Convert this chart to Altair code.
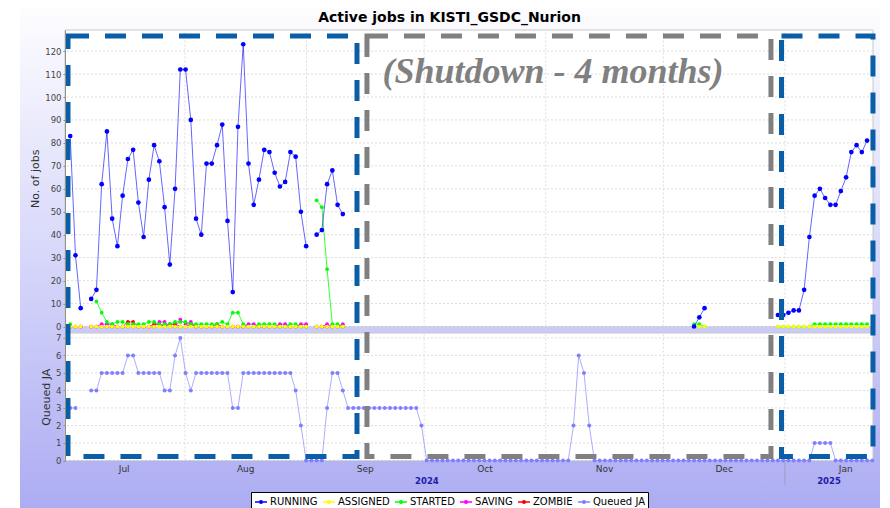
import altair as alt
import pandas as pd

# ---------------- data ----------------
TITLE = "Active jobs in KISTI_GSDC_Nurion"
SERIES = ["RUNNING", "ASSIGNED", "STARTED", "SAVING", "ZOMBIE", "Queued JA"]
COLORS = ["#0000ff", "#ffff00", "#00ff00", "#ff00ff", "#ff0000", "#8080ff"]

SAMPLE_START = "2024-07-02 18:00"   # first sample
SAMPLE_STEP_MIN = 1925              # sampling interval (minutes)
A0, B0, C0 = 0, 119, 135            # first sample index of each active block

running_a = [83, 31, 8, None, 12, 16, 62, 85, 47, 35, 57, 73, 77, 54,
             39, 64, 79, 72, 52, 27, 60, 112, 112, 90, 47, 40, 71, 71,
             79, 88, 46, 15, 87, 123, 71, 53, 64, 77, 76, 67, 61, 63,
             76, 74, 50, 35, None, 40, 42, 62, 68, 53, 49]
assigned_a = [0, 0, 0, None, 0, 0, 0, 0, 0, 0, 0, 0, 0, 0,
              0, 0, 0, 0, 0, 0, 0, 0, 0, 0, 0, 0, 0, 0,
              0, 0, 0, 0, 0, 0, 0, 0, 0, 0, 0, 0, 0, 0,
              0, 0, 0, 0, None, 0, 0, 0, 0, 0, 0]
started_a = [1, None, None, None, None, 11, 6, 2, 1, 2, 2, 1, 1, 1,
             1, 2, 2, 1, 1, 1, 2, 2, 2, 1, 1, 1, 1, 1,
             1, 2, 1, 6, 6, 1, 0, 0, 1, 1, 1, 1, 0, 0,
             1, 1, 0, 0, None, 55, 52, 25, 1, 1, 0]
saving_a = [0, 0, 0, None, 0, 0, 1, 1, 1, 0, 0, 0, 0, 0,
            0, 0, 0, 2, 2, 0, 0, 3, 1, 2, 0, 0, 0, 0,
            0, 0, 0, 0, 0, 0, 1, 1, 0, 0, 0, 0, 1, 1,
            0, 0, 1, 1, None, 0, 0, 1, 0, 0, 1]
zombie_a = [0, 0, 0, None, 0, 0, 0, 0, 0, 0, 0, 2, 2, 0,
            0, 0, 1, 1, 0, 1, 1, 0, 0, 1, 0, 0, 0, 0,
            1, 0, 0, 0, 0, 0, 0, 0, 0, 0, 0, 0, 0, 0,
            0, 0, 0, 0, None, 0, 0, 0, 0, 0, 0]

running_b = [0, 4, 8]
assigned_b = [0, 0, 0]
started_b = [1, 1, 0]

running_c = [5, 5, 6, 7, 7, 16, 39, 57, 60, 56, 53, 53, 59, 65, 76, 79, 76, 81]
assigned_c = [0, 0, 0, 0, 0, 0, 0, 0, 0, 0, 0, 0, 0, 0, 0, 0, 0, 0]
started_c = [0, 0, 0, 0, 0, 0, 0, 1, 1, 1, 1, 1, 1, 1, 1, 1, 1, 1]

queued_ja = [3, 3, None, None, 4, 4, 5, 5, 5, 5, 5, 6, 6, 5,
             5, 5, 5, 5, 4, 4, 6, 7, 5, 4, 5, 5, 5, 5,
             5, 5, 5, 3, 3, 5, 5, 5, 5, 5, 5, 5, 5, 5,
             5, 4, 2, 0, 0, 0, 0, 3, 5, 5, 4, 3, 3, 3,
             3, 3, 3, 3, 3, 3, 3, 3, 3, 3, 3, 2, 0, 0,
             0, 0, 0, 0, 0, 0, 0, 0, 0, 0, 0, 0, 0, 0,
             0, 0, 0, 0, 0, 0, 0, 0, 0, 0, 0, 0, 2, 6,
             5, 2, 0, 0, 0, 0, 0, 0, 0, 0, 0, 0, 0, 0,
             0, 0, 0, 0, 0, 0, 0, 0, 0, 0, 0, 0, 0, 0,
             0, 0, 0, 0, 0, 0, 0, 0, 0, 0, 0, 0, 0, 0,
             0, 0, 1, 1, 1, 1, 0, 0, 0, 0, 0, 0, 0, 0]

TOP_TICKS = [0, 10, 20, 30, 40, 50, 60, 70, 80, 90, 100, 110, 120]
BOTTOM_TICKS = [0, 1, 2, 3, 4, 5, 6, 7]
MONTH_STARTS = ["2024-08-01", "2024-09-01", "2024-10-01", "2024-11-01",
                "2024-12-01", "2025-01-01"]
MONTH_NAMES = ["Jul", "Aug", "Sep", "Oct", "Nov", "Dec", "Jan"]
MONTH_MIDS = ["2024-07-16 12:00", "2024-08-16 12:00", "2024-09-16 00:00",
              "2024-10-16 12:00", "2024-11-16 00:00", "2024-12-16 12:00",
              "2025-01-16 12:00"]
YEAR_NAMES = ["2024", "2025"]
YEAR_MIDS = ["2024-10-01 17:00", "2025-01-12 05:30"]
YEAR_BREAKS = ["2025-01-01"]

X_START = "2024-07-01 10:00"
X_END = "2025-01-23 11:00"
TOP_DOMAIN = [0, 129.2]
BOTTOM_DOMAIN = [0, 7.28]

BOX_STARTS = ["2024-07-02 04:20", "2024-09-16 10:00", "2024-12-31 03:00"]
BOX_ENDS = ["2024-09-13 21:00", "2024-12-28 10:30", "2025-01-23 10:50"]
BOX_COLORS = ["#0a5ea8", "#808080", "#0a5ea8"]
BOX_FRAC = [0.0104, 0.986]

NOTE_TEXT = "(Shutdown - 4 months)"
NOTE_AT = "2024-11-02 20:24"
NOTE_VALUE = 106

# ---------------- layout ----------------
W, H = 808, 431
TOP_RANGE = [296.5, 0]
BOTTOM_RANGE = [430.5, 303]
FRAC_RANGE = [H, 0]
FONT = "DejaVu Sans"


def build_rows():
    start = pd.Timestamp(SAMPLE_START)
    step = pd.Timedelta(minutes=SAMPLE_STEP_MIN)
    blocks = {
        "RUNNING": [(A0, running_a), (B0, running_b), (C0, running_c)],
        "ASSIGNED": [(A0, assigned_a), (B0, assigned_b), (C0, assigned_c)],
        "STARTED": [(A0, started_a), (B0, started_b), (C0, started_c)],
        "SAVING": [(A0, saving_a)],
        "ZOMBIE": [(A0, zombie_a)],
        "Queued JA": [(0, queued_ja)],
    }
    rows = []
    for name, parts in blocks.items():
        seg = 0
        for k0, vals in parts:
            seg += 1
            for i, v in enumerate(vals):
                if v is None:
                    seg += 1
                    continue
                rows.append({"t": start + step * (k0 + i), "series": name,
                             "value": v, "seg": seg})
    return pd.DataFrame(rows)


data = build_rows()


def dt(s):
    ts = pd.Timestamp(s)
    return alt.DateTime(year=ts.year, month=ts.month, date=ts.day,
                        hours=ts.hour, minutes=ts.minute)


XS = alt.Scale(domain=[dt(X_START), dt(X_END)])


def X(field, axis=None):
    return alt.X(f"{field}:T", scale=XS, axis=axis)


def top_y(field, axis=None):
    return alt.Y(f"{field}:Q", axis=axis,
                 scale=alt.Scale(domain=TOP_DOMAIN, range=TOP_RANGE, nice=False, zero=False))


def bottom_y(field, axis=None):
    return alt.Y(f"{field}:Q", axis=axis,
                 scale=alt.Scale(domain=BOTTOM_DOMAIN, range=BOTTOM_RANGE, nice=False, zero=False))


def frac_y(field):
    return alt.Y(f"{field}:Q", axis=None,
                 scale=alt.Scale(domain=[0, 1], range=FRAC_RANGE, nice=False, zero=False))


SYMBOL = "M-1,0L1,0M-0.22,0A0.22,0.22,0,1,1,0.22,0A0.22,0.22,0,1,1,-0.22,0Z"
LEG = alt.Legend(
    orient="none", legendX=186, legendY=462, direction="horizontal",
    fillColor="white", strokeColor="black", padding=3,
    symbolType=SYMBOL, symbolSize=144, symbolStrokeWidth=1.5, symbolOpacity=1,
    labelFont=FONT, labelFontSize=10, labelColor="black",
    labelOffset=2, columnPadding=2,
)
SCALE_C = alt.Scale(domain=SERIES, range=COLORS)
COLOR = alt.Color("series:N", title=None, legend=LEG, scale=SCALE_C)
COLOR_NOLEG = alt.Color("series:N", title=None, legend=None, scale=SCALE_C)

layers = []

# figure background (gradient)
bg = alt.Chart(pd.DataFrame({"a": [0]})).mark_rect(
    fill={"gradient": "linear", "x1": 0, "y1": 0, "x2": 0, "y2": 1,
          "stops": [{"offset": 0, "color": "#fdfdff"},
                    {"offset": 0.5, "color": "#d6d6fa"},
                    {"offset": 1, "color": "#aaaaf2"}]}
).encode(x=alt.value(-45), x2=alt.value(815), y=alt.value(-22), y2=alt.value(490))
layers.append(bg)

# chart title
layers.append(alt.Chart(pd.DataFrame({"txt": [TITLE]})).mark_text(
    font=FONT, fontSize=14, fontWeight="bold", color="black", align="center",
    baseline="alphabetic").encode(x=alt.value(W / 2 - 19.5), y=alt.value(-7.7), text="txt:N"))

# white plot panels
panels = pd.DataFrame({"t0": [pd.Timestamp(X_START)], "t1": [pd.Timestamp(X_END)],
                       "tv0": [TOP_DOMAIN[0]], "tv1": [TOP_DOMAIN[1]],
                       "bv0": [BOTTOM_DOMAIN[0]], "bv1": [BOTTOM_DOMAIN[1]]})
layers.append(alt.Chart(panels).mark_rect(fill="white", stroke="#c8c8c8", strokeWidth=1)
              .encode(x=X("t0"), x2="t1", y=top_y("tv0"), y2="tv1"))
layers.append(alt.Chart(panels).mark_rect(fill="white", stroke="#c8c8c8", strokeWidth=1)
              .encode(x=X("t0"), x2="t1", y=bottom_y("bv0"), y2="bv1"))

# vertical grid (month starts) + x axis
mstart = pd.DataFrame({"t": pd.to_datetime(MONTH_STARTS),
                       "tv0": TOP_DOMAIN[0], "tv1": TOP_DOMAIN[1],
                       "bv0": BOTTOM_DOMAIN[0], "bv1": BOTTOM_DOMAIN[1]})
XAXIS = alt.Axis(values=[dt(s) for s in MONTH_STARTS], labels=False, title=None, grid=False,
                 tickSize=12, tickColor="#9c9cc6", domainColor="#8f8f8f", orient="bottom",
                 zindex=1)
layers.append(alt.Chart(mstart).mark_rule(color="#dddddd", strokeDash=[2, 2], strokeWidth=1)
              .encode(x=X("t", XAXIS), y=top_y("tv0"), y2="tv1"))
layers.append(alt.Chart(mstart).mark_rule(color="#dddddd", strokeDash=[2, 2], strokeWidth=1)
              .encode(x=X("t"), y=bottom_y("bv0"), y2="bv1"))

# horizontal grids + y axes
axis_common = dict(grid=False, orient="left", domainColor="#8f8f8f", tickColor="#8f8f8f",
                   tickSize=2, labelFont=FONT, labelFontSize=8.5, labelColor="#444444",
                   labelPadding=2, titleFont=FONT, titleFontSize=11, titleFontWeight="normal",
                   titleColor="#333333", titlePadding=4, zindex=1, labelOverlap=False)
TOP_AXIS = alt.Axis(values=TOP_TICKS, title="No. of jobs", **axis_common)
BOTTOM_AXIS = alt.Axis(values=BOTTOM_TICKS, title="Queued JA", **axis_common)
layers.append(alt.Chart(pd.DataFrame({"v": TOP_TICKS}))
              .mark_rule(color="#dddddd", strokeDash=[2, 2], strokeWidth=1)
              .encode(y=top_y("v", TOP_AXIS)))
layers.append(alt.Chart(pd.DataFrame({"v": BOTTOM_TICKS}))
              .mark_rule(color="#dddddd", strokeDash=[2, 2], strokeWidth=1)
              .encode(y=bottom_y("v", BOTTOM_AXIS)))


# data series (bottom-most drawn first)
def series_layers(name, ychan, size, line_opacity):
    base = alt.Chart(data).transform_filter(alt.datum.series == name)
    line = base.mark_line(strokeWidth=1, opacity=line_opacity).encode(
        x=X("t"), y=ychan("value"), color=COLOR, detail="seg:N")
    dots = base.mark_circle(size=size, opacity=1).encode(
        x=X("t"), y=ychan("value"), color=COLOR_NOLEG)
    return [line, dots]


for name in ["ZOMBIE", "SAVING", "STARTED", "ASSIGNED"]:
    layers += series_layers(name, top_y, 14, 0.8)
layers += series_layers("RUNNING", top_y, 22, 0.6)
layers += series_layers("Queued JA", bottom_y, 16, 0.65)

# annotation boxes and note
boxes = pd.DataFrame({"t0": pd.to_datetime(BOX_STARTS), "t1": pd.to_datetime(BOX_ENDS),
                      "c": BOX_COLORS, "f0": BOX_FRAC[0], "f1": BOX_FRAC[1]})
layers.append(alt.Chart(boxes).mark_rect(fillOpacity=0, strokeWidth=5, strokeDash=[21, 16])
              .encode(x=X("t0"), x2="t1", y=frac_y("f0"), y2="f1",
                      stroke=alt.Stroke("c:N", scale=None)))
note = pd.DataFrame({"t": [pd.Timestamp(NOTE_AT)], "v": [NOTE_VALUE], "txt": [NOTE_TEXT]})
layers.append(alt.Chart(note).mark_text(font="Liberation Serif", fontSize=36, fontWeight="bold",
                                        fontStyle="italic", color="#808080", align="center",
                                        baseline="alphabetic")
              .encode(x=X("t"), y=top_y("v"), text="txt:N"))

# period axis labels
months = pd.DataFrame({"t": pd.to_datetime(MONTH_MIDS), "label": MONTH_NAMES})
layers.append(alt.Chart(months).mark_text(font=FONT, fontSize=9, color="#333333",
                                          baseline="middle", align="center")
              .encode(x=X("t"), y=alt.value(439), text="label:N"))
years = pd.DataFrame({"t": pd.to_datetime(YEAR_MIDS), "label": YEAR_NAMES})
layers.append(alt.Chart(years).mark_text(font=FONT, fontSize=8.5, fontWeight="bold",
                                         color="#1c1ca8", baseline="middle", align="center")
              .encode(x=X("t"), y=alt.value(451), text="label:N"))
ybreak = pd.DataFrame({"t": pd.to_datetime(YEAR_BREAKS)})
layers.append(alt.Chart(ybreak).mark_rule(color="#9c9cc6", strokeWidth=1)
              .encode(x=X("t"), y=alt.value(431), y2=alt.value(455)))

chart = alt.layer(*layers).resolve_scale(y="independent").properties(
    width=W, height=H,
    padding={"left": 12, "top": 0, "right": 0, "bottom": 0},
).configure_view(strokeWidth=0)

chart.save("out.html", embed_options={"renderer": "svg", "actions": False})
